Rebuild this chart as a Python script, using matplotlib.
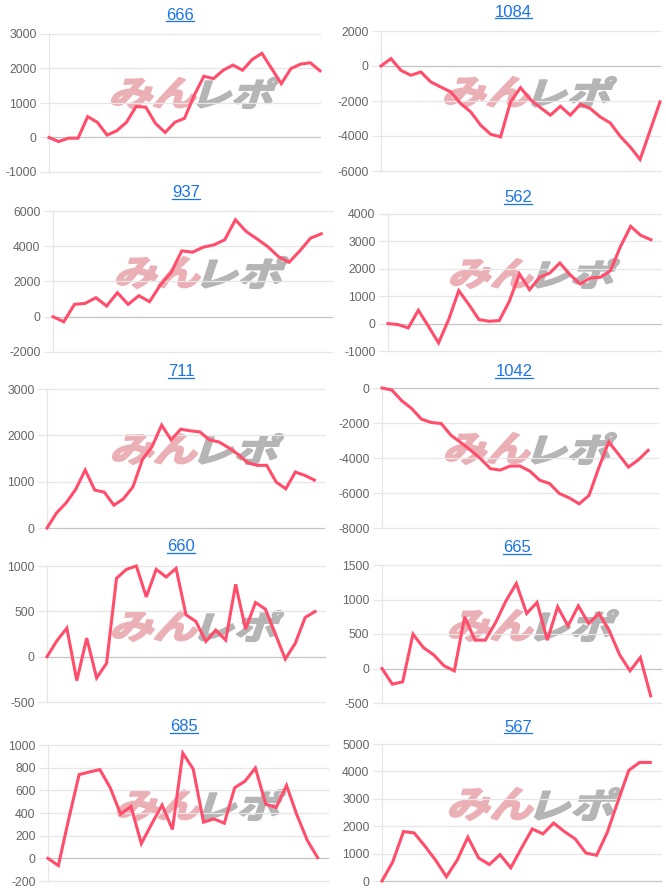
import matplotlib
matplotlib.use("Agg")
import matplotlib.pyplot as plt
from matplotlib.textpath import TextPath
from matplotlib.patches import PathPatch
from matplotlib.font_manager import FontProperties
from matplotlib.transforms import Affine2D
from matplotlib.lines import Line2D

plt.rcParams["font.family"] = ["Liberation Sans", "DejaVu Sans"]
plt.rcParams["axes.unicode_minus"] = False

# ---------------- data ----------------
titles = ["666", "1084", "937", "562", "711", "1042", "660", "665", "685", "567"]

s666 = [0, -117, -20, -20, 605, 440, 70, 195, 440, 898, 880, 410, 146, 440, 556,
        1220, 1776, 1707, 1950, 2100, 1950, 2263, 2440, 2000, 1560, 2000, 2127, 2166, 1932]
s1084 = [0, 420, -250, -530, -340, -910, -1200, -1480, -2150, -2620, -3380, -3900, -4050,
         -2050, -1240, -1920, -2380, -2810, -2300, -2810, -2190, -2430, -2910, -3250, -4010,
         -4620, -5340, -3700, -2050]
s937 = [0, -285, 702, 759, 1082, 607, 1366, 702, 1195, 854, 1803, 2505, 3738, 3662, 3947,
        4080, 4364, 5503, 4839, 4421, 3985, 3416, 3093, 3738, 4459, 4706]
s562 = [0, -36, -158, 486, -97, -705, 146, 1203, 693, 146, 85, 109, 814, 1810, 1239, 1689,
        1847, 2211, 1786, 1446, 1664, 1689, 1932, 2819, 3548, 3220, 3062]
s711 = [0, 325, 542, 832, 1251, 817, 774, 492, 629, 889, 1482, 1757, 2220, 1902, 2133, 2097,
        2075, 1902, 1858, 1735, 1590, 1410, 1352, 1352, 990, 846, 1207, 1135, 1034]
s1042 = [0, -115, -727, -1167, -1780, -1971, -2029, -2700, -3120, -3560, -4040, -4610, -4690,
         -4460, -4460, -4750, -5270, -5460, -6030, -6280, -6620, -6140, -4550, -3080, -3790,
         -4520, -4110, -3560]
s660 = [0, 176, 315, -264, 205, -234, -73, 864, 963, 1000, 659, 963, 879, 974, 461, 388, 168,
        293, 183, 798, 304, 597, 524, 249, -26, 146, 432, 498]
s665 = [0, -227, -193, 498, 304, 198, 39, -34, 749, 411, 411, 667, 981, 1232, 797, 957, 411,
        894, 618, 908, 652, 797, 546, 198, -34, 159, -396]
s685 = [0, -64, 348, 739, 762, 783, 623, 391, 458, 130, 304, 470, 255, 928, 788, 319, 348, 310,
        623, 681, 797, 478, 449, 643, 383, 159, 6]
s567 = [0, 697, 1803, 1755, 1274, 757, 156, 757, 1599, 841, 601, 962, 481, 1202, 1899, 1719,
        2115, 1803, 1538, 1022, 938, 1779, 2921, 4038, 4327, 4327]

series = [s666, s1084, s937, s562, s711, s1042, s660, s665, s685, s567]

# number of category labels on each x axis
n_labels = [29, 29, 27, 28, 30, 29, 29, 28, 28, 27]

yticks = [
    [-1000, 0, 1000, 2000, 3000],
    [-6000, -4000, -2000, 0, 2000],
    [-2000, 0, 2000, 4000, 6000],
    [-1000, 0, 1000, 2000, 3000, 4000],
    [0, 1000, 2000, 3000],
    [-8000, -6000, -4000, -2000, 0],
    [-500, 0, 500, 1000],
    [-500, 0, 500, 1000, 1500],
    [-200, 0, 200, 400, 600, 800, 1000],
    [0, 1000, 2000, 3000, 4000, 5000],
]

# ---------------- layout (pixels) ----------------
W, H = 666, 888
boxes = [(49, 320, 34, 172), (381, 660, 31, 171),
         (53, 332, 211, 352), (388, 661, 214, 351),
         (47, 324, 389, 528), (382, 658, 388, 528),
         (47, 325, 566, 702), (382, 661, 565, 703),
         (48, 328, 745, 881), (382, 661, 744, 881)]
title_pos = [(180, 19.5), (513, 16.7), (186, 197.3), (518, 202), (181, 376),
             (514, 376), (181, 551.3), (517, 552.3), (184, 731), (518, 731.7)]
wm_boxes = [(112, 196, 278, 78, 108), (445, 530, 616, 77, 107),
            (117, 200, 288, 257, 288), (451, 533, 619, 259, 288),
            (113, 197, 283, 434, 464), (446, 530, 616, 433, 464),
            (113, 197, 283, 611, 641), (450, 533, 618, 610, 641),
            (118, 200, 285, 790, 820), (450, 533, 620, 788, 820)]

LINE = "#ff4d6b"
GRID = "#e6e6e6"
ZERO = "#c4c4c4"
LABEL = "#666666"
BLUE = "#1a73e8"
WM_PINK = "#ebb0b5"
WM_GRAY = "#b5b5b5"

fig = plt.figure(figsize=(W / 100, H / 100), dpi=100)
fig.patch.set_facecolor("white")

cjk = FontProperties(family="Noto Sans CJK JP", weight="bold")


def wm_part(text, x0, x1, y0, y1, color):
    tp = TextPath((0, 0), text, size=40, prop=cjk)
    sk = Affine2D().skew_deg(14, 0).transform_path(tp)
    ext = sk.get_extents()
    T = (Affine2D().translate(-ext.x0, -ext.y0)
         .scale((x1 - x0) / ext.width, (y1 - y0) / ext.height)
         .translate(x0, H - y1))
    p = PathPatch(sk, transform=T, facecolor=color, edgecolor=color, lw=1.6,
                  joinstyle="round", zorder=-1)
    fig.add_artist(p)


for i, s in enumerate(series):
    x0, x1, yt, yb = boxes[i]
    ax = fig.add_axes([x0 / W, 1 - yb / H, (x1 - x0) / W, (yb - yt) / H])
    ax.set_facecolor("none")
    tk = yticks[i]
    ax.set_xlim(0, n_labels[i] - 1)
    ax.set_ylim(tk[0], tk[-1])
    ax.set_xticks([])
    ax.set_yticks(tk)
    ax.set_yticklabels([str(t) for t in tk])
    for t in tk:
        ax.axhline(t, color=ZERO if t == 0 else GRID, lw=0.9, zorder=1, clip_on=False)
    for name in ["top", "right", "bottom"]:
        ax.spines[name].set_visible(False)
    ax.spines["left"].set_color(GRID)
    ax.spines["left"].set_linewidth(0.9)
    ax.tick_params(axis="y", length=6.5, width=0.9, color=GRID, pad=2.5,
                   labelsize=8.8, labelcolor=LABEL)
    for t, tick in zip(tk, ax.yaxis.get_major_ticks()):
        if t == 0:
            tick.tick1line.set_color(ZERO)
    ax.plot(range(len(s)), s, color=LINE, lw=2.2, clip_on=False, zorder=3,
            solid_joinstyle="miter")

    wx0, wxm, wx1, wy0, wy1 = wm_boxes[i]
    wm_part("みん", wx0, wxm, wy0, wy1, WM_PINK)
    wm_part("レポ", wxm + 2, wx1, wy0, wy1, WM_GRAY)

texts = []
for i, t in enumerate(titles):
    xc, base = title_pos[i]
    texts.append(fig.text(xc / W, 1 - base / H, t, ha="center", va="baseline",
                          fontsize=12, color=BLUE))

fig.canvas.draw()
for i, t in enumerate(texts):
    bb = t.get_window_extent()
    yline = H - (title_pos[i][1] + 1.6)
    fig.add_artist(Line2D([bb.x0, bb.x1], [yline, yline], transform=Affine2D(),
                          color=BLUE, lw=0.9))

fig.savefig("out.png", dpi=100, facecolor="white")
